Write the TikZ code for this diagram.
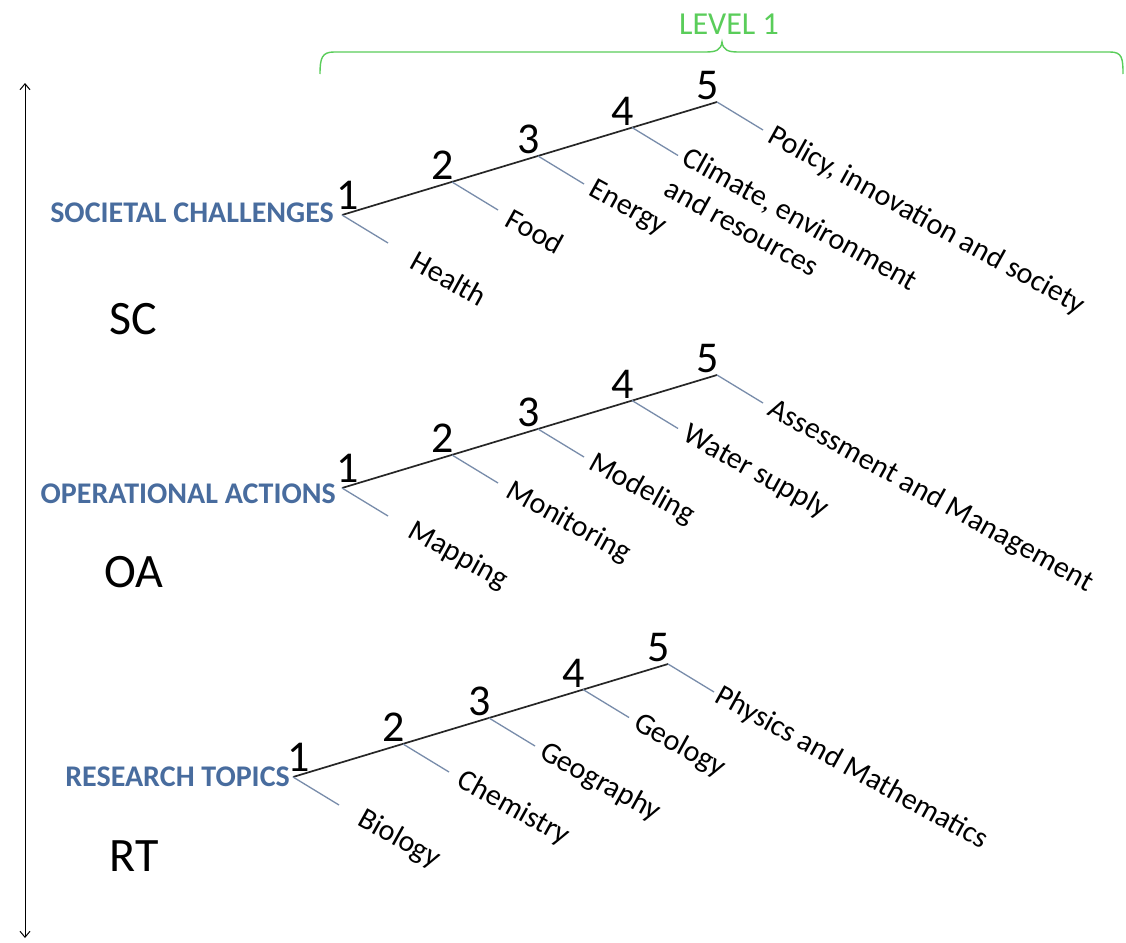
\documentclass[tikz,border=0pt]{standalone}
\usepackage{fontspec}
\setmainfont{Carlito}
\usetikzlibrary{arrows.meta,calc}

\definecolor{headblue}{RGB}{72,108,158}
\definecolor{twigcol}{RGB}{120,140,170}
\definecolor{levelgreen}{RGB}{90,205,90}

\tikzset{
  spine/.style={line width=1.7pt, black!85},
  twig/.style={line width=1.3pt, twigcol},
  num/.style={font=\fontsize{44}{44}\selectfont, inner sep=0pt, anchor=south},
  lab/.style={font=\fontsize{30}{36}\selectfont, inner sep=0pt, anchor=west, rotate=-29},
  head/.style={font=\bfseries\fontsize{30}{30}\selectfont, text=headblue, inner sep=0pt, anchor=east},
  abbr/.style={font=\fontsize{48}{48}\selectfont, inner sep=0pt},
  brace/.style={line width=1.4pt, levelgreen},
}

\begin{document}
\begin{tikzpicture}[x=1pt,y=-1pt]
\fill[white] (0,0) rectangle (1126,942);
\useasboundingbox (0,0) rectangle (1126,942);

% level brace
\node[font=\fontsize{32}{32}\selectfont, text=levelgreen, inner sep=0pt] (level) at (729,24) {LEVEL 1};
\coordinate (tip) at (722,42);
\draw[brace] (320,74) .. controls (320,58) and (322,52) .. (334,52) -- (706,52)
  .. controls (716,52) and (721,50) .. (tip)
  .. controls (723,50) and (728,52) .. (738,52) -- (1110,52)
  .. controls (1122,52) and (1123,58) .. (1123,74);

% vertical axis
\coordinate (axtop) at (25,83);
\coordinate (axbot) at (25,938);
\draw[line width=1pt, {Straight Barb[length=6pt,width=10pt]}-{Straight Barb[length=6pt,width=10pt]}] (axtop) -- (axbot);

% three ladders: spine, five twigs, numbers
\foreach \b/\sx/\sy in {sc/342/215, oa/342/488, rt/293/777} {
  \begin{scope}[shift={(\sx,\sy)}]
    \foreach \i/\px/\py in {1/0/0, 2/110/-33, 3/196/-59, 4/290/-87.5, 5/375/-113}
      \coordinate (\b\i) at (\px,\py);
  \end{scope}
  \draw[spine] (\b1) -- (\b5);
  \foreach \i in {1,...,5}
    \draw[twig] (\b\i) -- ++(46,28) coordinate (\b\i e);
  \node[num] (\b n1) at ($(\b1)+(6,-5)$) {1};
  \foreach \i in {2,...,5}
    \node[num] (\b n\i) at ($(\b\i)+(-9,-2)$) {\i};
}

% headings
\node[head] (sch) at (334,213) {SOCIETAL CHALLENGES};
\node[head] (oah) at (336,494) {OPERATIONAL ACTIONS};
\node[head] (rth) at (290,777) {RESEARCH TOPICS};

\node[abbr] (scab) at (133,319) {SC};
\node[abbr] (oaab) at (134,572) {OA};
\node[abbr] (rtab) at (134,856) {RT};

% societal challenges
\node[lab] (scl1) at ($(sc1)!84pt!(sc1e)$) {Health};
\node[lab] (scl2) at ($(sc2)!66pt!(sc2e)$) {Food};
\node[lab] (scl3) at ($(sc3)!62pt!(sc3e)$) {Energy};
\node[lab, anchor=north west, align=left] (scl4) at ($(sc4)!60pt!(sc4e)+(7,-14)$) {Climate, environment\\and resources};
\node[lab] (scl5) at ($(sc5)!62pt!(sc5e)$) {Policy, innovation and society};

% operational actions
\node[lab] (oal1) at ($(oa1)!80pt!(oa1e)$) {Mapping};
\node[lab] (oal2) at ($(oa2)!66pt!(oa2e)$) {Monitoring};
\node[lab] (oal3) at ($(oa3)!62pt!(oa3e)$) {Modeling};
\node[lab] (oal4) at ($(oa4)!62pt!(oa4e)$) {Water supply};
\node[lab] (oal5) at ($(oa5)!62pt!(oa5e)$) {Assessment and Management};

% research topics
\node[lab] (rtl1) at ($(rt1)!78pt!(rt1e)$) {Biology};
\node[lab] (rtl2) at ($(rt2)!66pt!(rt2e)$) {Chemistry};
\node[lab] (rtl3) at ($(rt3)!62pt!(rt3e)$) {Geography};
\node[lab] (rtl4) at ($(rt4)!62pt!(rt4e)$) {Geology};
\node[lab] (rtl5) at ($(rt5)!58pt!(rt5e)$) {Physics and Mathematics};
\end{tikzpicture}
\end{document}
